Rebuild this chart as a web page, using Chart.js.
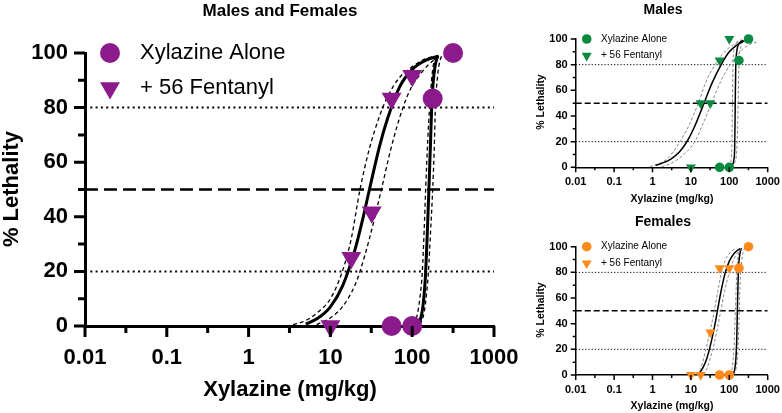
<!DOCTYPE html>
<html>
<head>
<meta charset="utf-8">
<script src="https://cdn.jsdelivr.net/npm/chart.js@4.4.1/dist/chart.umd.min.js"></script>
<style>
  html, body { margin: 0; padding: 0; background: #fff; }
  #wrap { position: relative; width: 782px; height: 413px; overflow: hidden; }
  canvas { position: absolute; }
</style>
</head>
<body>
<div id="wrap">
  <canvas id="mainChart" width="560" height="413" style="left:0;top:0"></canvas>
  <canvas id="maleChart" width="262" height="206" style="left:530px;top:0"></canvas>
  <canvas id="femaleChart" width="262" height="207" style="left:530px;top:206px"></canvas>
</div>
<script>
// tick labels
const xTickValues = [0.01, 0.1, 1, 10, 100, 1000];
const xTickText = ['0.01', '0.1', '1', '10', '100', '1000'];
const xMinorTicks = [0.0316, 0.316, 3.16, 31.6, 316];
const yTickValues = [0, 20, 40, 60, 80, 100];
const yMinorTicks = [10, 30, 50, 70, 90];
const refLevels = [20, 50, 80];

// doses (mg/kg)
const doseAlone = [56, 100, 178, 316];
const doseFent = [10, 18, 32, 56, 100];

// % lethality, observed
const allAlone = [0, 0, 83.3, 100];
const allFent = [0, 25, 41.7, 83.3, 91.7];
const maleAlone = [0, 0, 83.3, 100];
const maleFent = [0, 50, 50, 83.3, 100];
const femaleAlone = [0, 0, 83.3, 100];
const femaleFent = [0, 0, 33.3, 83.3, 83.3];

// fitted curves and 95% bands
const allFentFitX = [5, 7, 10, 14, 20, 25, 30, 40, 50, 70, 100, 150, 210];
const allFentFitY = [0.7, 2.8, 7, 14.5, 28, 39.5, 50, 66, 76, 87.5, 94, 97.5, 98.8];
const allFentHiX = [3.5, 5, 7, 10, 14, 18, 23, 30, 40, 50, 70, 100, 150, 210];
const allFentHiY = [0.5, 2, 5, 10, 20, 32, 50, 65, 77, 84, 91, 95, 98, 99];
const allFentLoX = [6.8, 10, 14, 20, 23, 30, 42, 55, 77, 100, 124, 150, 210];
const allFentLoY = [0.5, 3, 7, 15, 20, 32, 50, 65, 80, 88, 92, 95, 98.8];
const allAloneFitX = [115, 125, 135, 145, 152, 160, 167, 173, 180, 190, 205];
const allAloneFitY = [0.3, 2, 7, 18, 32, 50, 66, 80, 89, 95, 99];
const allAloneHiX = [103, 115, 125, 133, 140, 146, 155, 163, 175, 190, 200];
const allAloneHiY = [0.5, 4, 11, 20, 35, 50, 68, 80, 92, 98.5, 99.5];
const allAloneLoX = [125, 140, 150, 158, 168, 178, 186, 192, 205, 220, 230];
const allAloneLoY = [0.5, 5, 12, 20, 35, 50, 65, 80, 92, 97.5, 99];

const maleFentFitX = [1.2, 2, 3, 5, 8, 12, 22, 35, 60, 100, 160, 250];
const maleFentFitY = [1.5, 3.8, 6.4, 11.9, 20.3, 30.6, 50, 65.2, 79.5, 90, 95.5, 98.5];
const maleFentHiX = [0.86, 1.5, 2.5, 5.2, 9, 15.6, 25, 42.5, 70, 120, 190];
const maleFentHiY = [0.5, 3, 7, 20, 33, 50, 67, 80, 89, 95, 98];
const maleFentLoX = [1.74, 3, 6, 12.7, 20, 34.6, 60, 105, 180, 300, 570];
const maleFentLoY = [0.5, 3, 9, 20, 33, 50, 67, 80, 89, 95, 98];
const maleAloneFitX = [100, 120, 132, 138, 141, 144, 147, 152, 165, 190, 233];
const maleAloneFitY = [0.3, 2, 6, 15, 35, 60, 78, 87, 94, 97.5, 99];
const maleAloneHiX = [98, 110, 117, 121, 124, 128, 140, 170, 210];
const maleAloneHiY = [0.5, 4, 20, 50, 75, 88, 95, 98.5, 99.5];
const maleAloneLoX = [110, 135, 155, 166, 172, 178, 195, 240];
const maleAloneLoY = [0.5, 3, 12, 35, 60, 80, 93, 98.5];

const femaleFentFitX = [16, 20, 25, 30, 40, 49, 60, 77, 100, 140, 190];
const femaleFentFitY = [1, 5, 11.5, 19.4, 35.7, 50, 64.3, 78.8, 88.8, 95.5, 98.5];
const femaleFentHiX = [14, 18, 24.6, 32, 40.6, 50, 63, 80, 110, 155];
const femaleFentHiY = [0.5, 5, 20, 35, 50, 65, 80, 90, 96, 99];
const femaleFentLoX = [21, 26, 37, 48, 60, 75, 100, 130, 170, 230];
const femaleFentLoY = [0.5, 5, 20, 35, 50, 65, 80, 90, 96, 99];
const femaleAloneFitX = [115, 135, 150, 157, 162, 168, 175, 190, 210];
const femaleAloneFitY = [0.5, 3, 15, 30, 50, 70, 85, 95, 99];
const femaleAloneHiX = [100, 118, 132, 138, 144, 152, 162, 175, 190];
const femaleAloneHiY = [0.5, 5, 20, 35, 50, 70, 85, 95, 99];
const femaleAloneLoX = [132, 150, 168, 176, 182, 190, 205, 225, 257];
const femaleAloneLoY = [0.5, 5, 20, 35, 50, 70, 85, 95, 99];

const FONT = '"Liberation Sans", Arial, Helvetica, sans-serif';
const pts = (xs, ys) => xs.map((x, i) => ({x: x, y: ys[i]}));

// ticks, titles and legend drawn on top of each panel
const panelDecor = {
  id: 'panelDecor',
  afterDraw(chart, args, o) {
    const {ctx, chartArea: a, scales: {x, y}} = chart;
    ctx.save();
    ctx.strokeStyle = '#000';
    ctx.lineWidth = o.tickWidth;
    ctx.beginPath();
    xTickValues.forEach(v => { const px = x.getPixelForValue(v); ctx.moveTo(px, a.bottom); ctx.lineTo(px, a.bottom + o.major); });
    xMinorTicks.forEach(v => { const px = x.getPixelForValue(v); ctx.moveTo(px, a.bottom); ctx.lineTo(px, a.bottom + o.minor); });
    yTickValues.forEach(v => { const py = y.getPixelForValue(v); ctx.moveTo(a.left, py); ctx.lineTo(a.left - o.major, py); });
    yMinorTicks.forEach(v => { const py = y.getPixelForValue(v); ctx.moveTo(a.left, py); ctx.lineTo(a.left - o.minor, py); });
    ctx.stroke();

    ctx.fillStyle = '#000';
    ctx.textAlign = 'center';
    ctx.textBaseline = 'middle';
    ctx.font = 'bold ' + o.titleSize + 'px ' + FONT;
    ctx.fillText(o.title, o.titleX, o.titleY);
    ctx.font = 'bold ' + o.axisSize + 'px ' + FONT;
    ctx.fillText('Xylazine (mg/kg)', o.xTitleX, o.xTitleY);
    ctx.save();
    ctx.translate(o.yTitleX, o.yTitleY);
    ctx.rotate(-Math.PI / 2);
    ctx.fillText('% Lethality', 0, 0);
    ctx.restore();

    // legend
    ctx.fillStyle = o.color;
    Chart.helpers.drawPoint(ctx, {pointStyle: 'circle', radius: o.circleR, rotation: 0, borderWidth: 0}, o.legX, o.legY1);
    Chart.helpers.drawPoint(ctx, {pointStyle: 'triangle', radius: o.triR, rotation: 180, borderWidth: 0}, o.legX, o.legY2);
    ctx.fillStyle = '#000';
    ctx.textAlign = 'left';
    ctx.font = o.legSize + 'px ' + FONT;
    ctx.fillText('Xylazine Alone', o.legTextX, o.legY1);
    ctx.fillText('+ 56 Fentanyl', o.legTextX, o.legY2);
    ctx.restore();
  }
};

function makePanel(id, d, s) {
  const curve = (xs, ys, dashed) => ({
    data: pts(xs, ys), showLine: true, pointRadius: 0, fill: false,
    borderColor: dashed ? s.bandColor : '#000',
    borderWidth: dashed ? s.bandWidth : s.fitWidth,
    borderDash: dashed ? s.bandDash : [],
    cubicInterpolationMode: 'monotone', order: 2
  });
  const ref = level => ({
    data: pts([0.01, 1000], [level, level]), showLine: true, pointRadius: 0,
    borderColor: '#000',
    borderWidth: level === 50 ? s.midWidth : s.dotWidth,
    borderDash: level === 50 ? s.midDash : s.dotDash,
    order: 3
  });
  const datasets = [
    {data: pts(doseAlone, d.alone), pointStyle: 'circle', pointRadius: s.circleR, backgroundColor: s.color, borderWidth: 0, clip: false, order: 0},
    {data: pts(doseFent, d.fent), pointStyle: 'triangle', rotation: 180, pointRadius: s.triR, backgroundColor: s.color, borderWidth: 0, clip: false, order: 0},
    curve(d.fentFit[0], d.fentFit[1], false),
    curve(d.fentHi[0], d.fentHi[1], true),
    curve(d.fentLo[0], d.fentLo[1], true),
    curve(d.aloneFit[0], d.aloneFit[1], false),
    curve(d.aloneHi[0], d.aloneHi[1], true),
    curve(d.aloneLo[0], d.aloneLo[1], true)
  ].concat(refLevels.map(ref));

  const tickFont = {family: FONT, size: s.tickSize, weight: 'bold'};
  new Chart(document.getElementById(id), {
    type: 'scatter',
    data: {datasets: datasets},
    options: {
      responsive: false,
      animation: false,
      layout: {padding: {top: s.top, right: s.right, left: 0, bottom: 0}},
      plugins: {legend: {display: false}, tooltip: {enabled: false}, panelDecor: s},
      scales: {
        x: {
          type: 'logarithmic', min: 0.01, max: 1000,
          grid: {display: false, drawTicks: false},
          border: {display: true, color: '#000', width: s.axisWidth},
          ticks: {
            font: tickFont, color: '#000', padding: s.xPad, autoSkip: false, maxRotation: 0,
            callback: v => { const i = xTickValues.indexOf(v); return i < 0 ? '' : xTickText[i]; }
          },
          afterBuildTicks: sc => { sc.ticks = xTickValues.map(v => ({value: v})); },
          afterFit: sc => { sc.height = s.xHeight; }
        },
        y: {
          min: 0, max: 100,
          grid: {display: false, drawTicks: false},
          border: {display: true, color: '#000', width: s.axisWidth},
          ticks: {font: tickFont, color: '#000', padding: s.yPad},
          afterBuildTicks: sc => { sc.ticks = yTickValues.map(v => ({value: v})); },
          afterFit: sc => { sc.width = s.yWidth; }
        }
      }
    },
    plugins: [panelDecor]
  });
}

makePanel('mainChart', {
  alone: allAlone, fent: allFent,
  fentFit: [allFentFitX, allFentFitY], fentHi: [allFentHiX, allFentHiY], fentLo: [allFentLoX, allFentLoY],
  aloneFit: [allAloneFitX, allAloneFitY], aloneHi: [allAloneHiX, allAloneHiY], aloneLo: [allAloneLoX, allAloneLoY]
}, {
  color: '#8b1a8b', circleR: 10, triR: 11.5,
  fitWidth: 3, bandWidth: 1.3, bandColor: '#000', bandDash: [4, 3],
  dotWidth: 2, dotDash: [2, 3.3], midWidth: 2.7, midDash: [13, 6],
  axisWidth: 3, tickWidth: 3, major: 11, minor: 7,
  top: 53, right: 66, yWidth: 85, xHeight: 87, xPad: 19, yPad: 17, tickSize: 22,
  title: 'Males and Females', titleSize: 17, titleX: 280, titleY: 11,
  axisSize: 22, xTitleX: 290, xTitleY: 390, yTitleX: 12, yTitleY: 189,
  legX: 110, legY1: 53, legY2: 88, legTextX: 140, legSize: 22
});

makePanel('maleChart', {
  alone: maleAlone, fent: maleFent,
  fentFit: [maleFentFitX, maleFentFitY], fentHi: [maleFentHiX, maleFentHiY], fentLo: [maleFentLoX, maleFentLoY],
  aloneFit: [maleAloneFitX, maleAloneFitY], aloneHi: [maleAloneHiX, maleAloneHiY], aloneLo: [maleAloneLoX, maleAloneLoY]
}, {
  color: '#0a8a40', circleR: 4.8, triR: 5.8,
  fitWidth: 1.5, bandWidth: 1, bandColor: '#8a8a8a', bandDash: [3, 2],
  dotWidth: 1, dotDash: [1.2, 2], midWidth: 1.5, midDash: [6, 3],
  axisWidth: 1.5, tickWidth: 1.5, major: 5, minor: 3,
  top: 39, right: 24.3, yWidth: 45.7, xHeight: 38.7, xPad: 8, yPad: 8, tickSize: 11,
  title: 'Males', titleSize: 14, titleX: 133, titleY: 10,
  axisSize: 10.5, xTitleX: 142, xTitleY: 199, yTitleX: 11, yTitleY: 102,
  legX: 56.7, legY1: 39, legY2: 55.7, legTextX: 71, legSize: 10
});

makePanel('femaleChart', {
  alone: femaleAlone, fent: femaleFent,
  fentFit: [femaleFentFitX, femaleFentFitY], fentHi: [femaleFentHiX, femaleFentHiY], fentLo: [femaleFentLoX, femaleFentLoY],
  aloneFit: [femaleAloneFitX, femaleAloneFitY], aloneHi: [femaleAloneHiX, femaleAloneHiY], aloneLo: [femaleAloneLoX, femaleAloneLoY]
}, {
  color: '#ff8a1c', circleR: 4.8, triR: 5.8,
  fitWidth: 1.5, bandWidth: 1, bandColor: '#8a8a8a', bandDash: [3, 2],
  dotWidth: 1, dotDash: [1.2, 2], midWidth: 1.5, midDash: [6, 3],
  axisWidth: 1.5, tickWidth: 1.5, major: 5, minor: 3,
  top: 40.7, right: 24.3, yWidth: 45.7, xHeight: 38, xPad: 8, yPad: 8, tickSize: 11,
  title: 'Females', titleSize: 14, titleX: 133, titleY: 16,
  axisSize: 10.5, xTitleX: 142, xTitleY: 200, yTitleX: 11, yTitleY: 104,
  legX: 56.7, legY1: 40.7, legY2: 57.3, legTextX: 71, legSize: 10
});
</script>
</body>
</html>
